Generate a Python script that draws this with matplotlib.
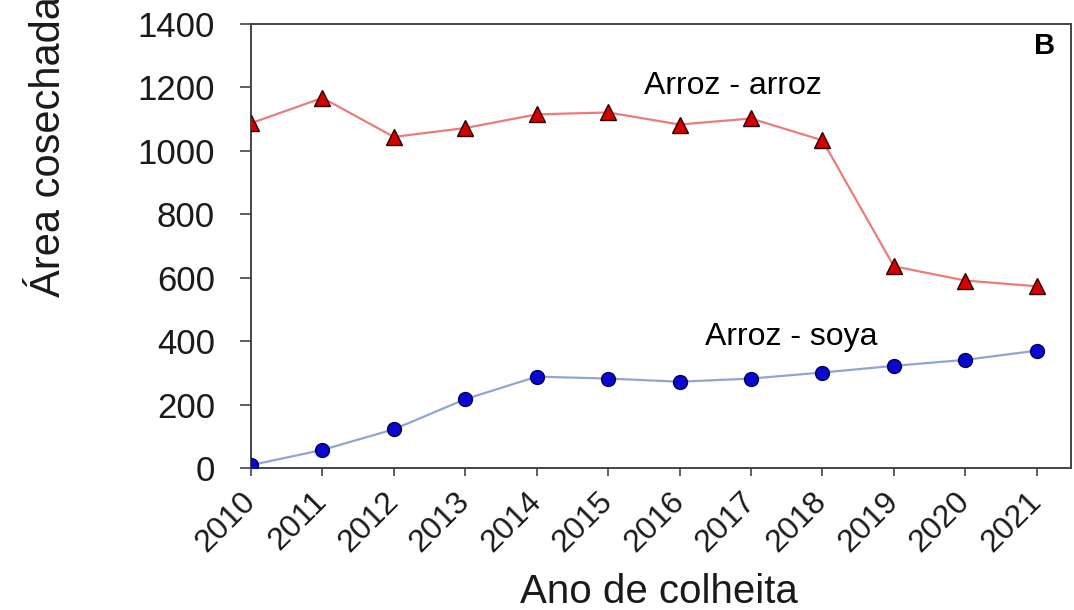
import matplotlib.pyplot as plt

plt.rcParams['font.family'] = ['Liberation Sans', 'DejaVu Sans']

# harvest years and harvested area for the two rotations
anos = [2010, 2011, 2012, 2013, 2014, 2015, 2016, 2017, 2018, 2019, 2020, 2021]
arroz_arroz = [1087, 1167, 1044, 1072, 1115, 1121, 1083, 1102, 1033, 636, 591, 573]
arroz_soya = [9, 57, 122, 217, 288, 282, 272, 282, 301, 322, 341, 370]
y_ticks = [0, 200, 400, 600, 800, 1000, 1200, 1400]

fig = plt.figure(figsize=(10.74, 6.10), dpi=100)
ax = fig.add_axes([0.2337, 0.2328, 0.7635, 0.7279])

ax.plot(anos, arroz_arroz, '-', color='#ec7c7c', lw=1.6, zorder=2)
ax.plot(anos, arroz_arroz, '^', ms=11, mfc='#d40000', mec='#2a0000', mew=1.0, zorder=3)
ax.plot(anos, arroz_soya, '-', color='#8fa6d4', lw=1.6, zorder=2)
ax.plot(anos, arroz_soya, 'o', ms=10, mfc='#0808d0', mec='#000050', mew=1.0, zorder=3)

ax.set_xlim(2010, 2021.48)
ax.set_ylim(0, 1400)
ax.set_xticks(anos)
ax.set_xticklabels([str(a) for a in anos], rotation=45, rotation_mode='anchor',
                   ha='right', va='center')
ax.set_yticks(y_ticks)

for s in ax.spines.values():
    s.set_color('#444444')
    s.set_linewidth(1.4)
ax.tick_params(axis='y', direction='out', length=8, width=1.2, color='#444444',
               labelsize=25, pad=18, labelcolor='#1a1a1a')
ax.tick_params(axis='x', direction='out', length=6, width=1.2, color='#444444',
               labelsize=23, pad=15, labelcolor='#1a1a1a')

ax.text(2015.5, 1205, 'Arroz - arroz', fontsize=23, ha='left', va='center')
ax.text(2016.35, 412, 'Arroz - soya', fontsize=23, ha='left', va='center')
ax.text(0.968, 0.95, 'B', transform=ax.transAxes, fontsize=21, fontweight='bold',
        ha='center', va='center')

fig.text(0.614, 0.012, 'Ano de colheita', fontsize=29, ha='center', va='baseline',
         color='#1a1a1a')
fig.text(60 / 1074, 1 - 297 / 610, 'Área cosechada', fontsize=30, rotation=90,
         rotation_mode='anchor', ha='left', va='baseline', color='#1a1a1a')

fig.savefig('out.png', dpi=100)
